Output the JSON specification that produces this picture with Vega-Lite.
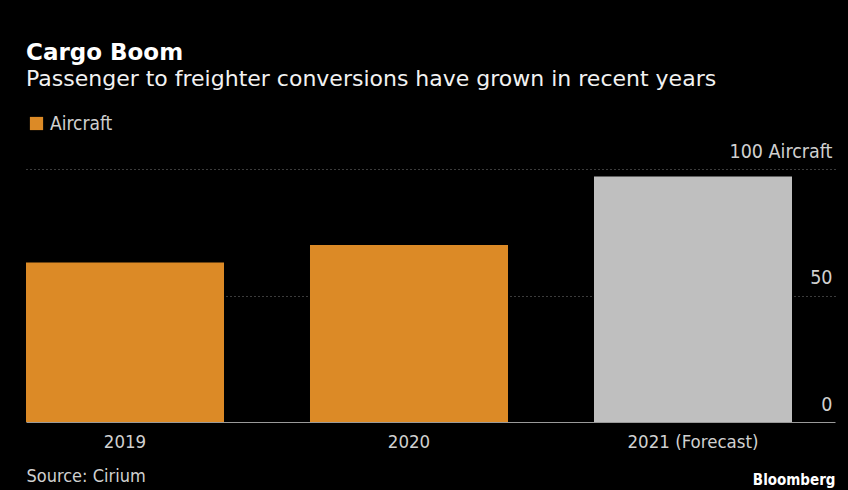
{
  "$schema": "https://vega.github.io/schema/vega-lite/v6.json",
  "width": 809,
  "height": 253,
  "autosize": "none",
  "padding": {"left": 26, "top": 169, "right": 13, "bottom": 68},
  "background": "#000000",
  "title": {
    "text": "Cargo Boom",
    "subtitle": "Passenger to freighter conversions have grown in recent years",
    "anchor": "start",
    "frame": "group",
    "font": "DejaVu Sans",
    "fontSize": 23,
    "fontWeight": "bold",
    "color": "#ffffff",
    "subtitleFont": "DejaVu Sans",
    "subtitleFontSize": 22,
    "subtitleColor": "#f2f2f2",
    "subtitlePadding": 4,
    "offset": 24
  },
  "data": {
    "values": [
      {"year": "2019", "aircraft": 63, "status": "Aircraft"},
      {"year": "2020", "aircraft": 70, "status": "Aircraft"},
      {"year": "2021 (Forecast)", "aircraft": 97, "status": "Forecast"}
    ]
  },
  "mark": {"type": "bar"},
  "encoding": {
    "x": {
      "field": "year",
      "type": "nominal",
      "sort": null,
      "scale": {"paddingInner": 0.3028, "paddingOuter": 0.0757, "align": 0},
      "axis": {
        "title": "Source: Cirium",
        "titleAnchor": "start",
        "titleAlign": "left",
        "titleFont": "DejaVu Sans Condensed",
        "titleFontSize": 18,
        "titleFontWeight": "normal",
        "titleColor": "#d0d0d0",
        "titlePadding": 17,
        "labelAngle": 0,
        "labelFont": "DejaVu Sans Condensed",
        "labelFontSize": 18.5,
        "labelColor": "#d0d0d0",
        "labelPadding": 10,
        "domain": false,
        "ticks": false,
        "grid": false
      }
    },
    "y": {
      "field": "aircraft",
      "type": "quantitative",
      "scale": {"domain": [0, 100]},
      "axis": {
        "orient": "right",
        "values": [0, 50, 100],
        "labelExpr": "datum.value == 100 ? '100 Aircraft' : datum.label",
        "labelAlign": "right",
        "labelBaseline": "bottom",
        "labelPadding": -3,
        "labelOffset": -8,
        "labelFont": "DejaVu Sans Condensed",
        "labelFontSize": 19.5,
        "labelColor": "#d0d0d0",
        "domain": false,
        "ticks": false,
        "tickSize": 0,
        "grid": true,
        "gridColor": {"condition": {"test": "datum.value == 0", "value": "#9a9a9a"}, "value": "#777777"},
        "gridDash": {"condition": {"test": "datum.value == 0", "value": []}, "value": [1, 3]},
        "gridWidth": 1,
        "title": "Bloomberg",
        "titleAngle": 0,
        "titleAlign": "right",
        "titleBaseline": "alphabetic",
        "titleX": 0,
        "titleY": 315,
        "titleFont": "DejaVu Sans Condensed",
        "titleFontSize": 15,
        "titleFontWeight": "bold",
        "titleColor": "#ffffff"
      }
    },
    "color": {
      "field": "status",
      "type": "nominal",
      "scale": {"domain": ["Aircraft", "Forecast"], "range": ["#dc8a26", "#bfbfbf"]},
      "legend": {
        "values": ["Aircraft"],
        "title": null,
        "orient": "none",
        "legendX": 1,
        "legendY": -55,
        "symbolType": "square",
        "symbolSize": 175,
        "symbolStrokeWidth": 0,
        "labelFont": "DejaVu Sans Condensed",
        "labelFontSize": 19,
        "labelColor": "#d0d0d0",
        "labelOffset": 4
      }
    }
  },
  "config": {
    "view": {"stroke": null}
  }
}
